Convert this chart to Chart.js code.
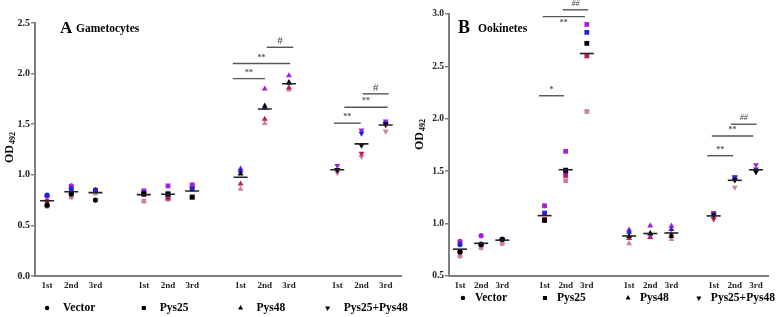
<!DOCTYPE html>
<html>
<head>
<meta charset="utf-8">
<script src="https://cdn.jsdelivr.net/npm/chart.js@4.4.0/dist/chart.umd.min.js"></script>
<style>
  body { margin: 0; background: #fff; }
  #wrap { position: relative; width: 778px; height: 317px; }
  canvas { position: absolute; top: 0; }
</style>
</head>
<body>
<div id="wrap">
  <canvas id="gamChart" width="410" height="317" style="left:0"></canvas>
  <canvas id="ookChart" width="368" height="317" style="left:410px"></canvas>
</div>
<script>
// groups and rounds on the x axis
const groups = ['Vector', 'Pys25', 'Pys48', 'Pys25+Pys48'];
const rounds = ['1st', '2nd', '3rd'];

// OD492, gametocytes (panel A): one array per replicate, 4 groups x 3 rounds
const gamRep1 = [0.70, 0.81, 0.75, 0.81, 0.81, 0.78, 1.01, 1.68, 1.91, 1.05, 1.29, 1.50];
const gamRep2 = [0.80, 0.86, 0.85, 0.82, 0.81, 0.86, 1.04, 1.66, 1.91, 1.05, 1.41, 1.51];
const gamRep3 = [0.79, 0.89, 0.85, 0.84, 0.89, 0.90, 1.06, 1.85, 1.98, 1.09, 1.44, 1.53];
const gamRep4 = [0.74, 0.82, 0.85, 0.81, 0.77, 0.78, 0.91, 1.55, 1.86, 1.04, 1.21, 1.49];
const gamRep5 = [0.69, 0.78, 0.82, 0.74, 0.76, 0.88, 0.86, 1.51, 1.84, 1.02, 1.18, 1.43];

// OD492, ookinetes (panel B)
const ookRep1 = [0.73, 0.80, 0.85, 1.03, 1.51, 2.72, 0.88, 0.907, 0.88, 1.08, 1.416, 1.495];
const ookRep2 = [0.80, 0.805, 0.85, 1.10, 1.50, 2.825, 0.92, 0.90, 0.945, 1.09, 1.435, 1.52];
const ookRep3 = [0.83, 0.885, 0.85, 1.17, 1.69, 2.90, 0.94, 0.98, 0.977, 1.104, 1.447, 1.56];
const ookRep4 = [0.73, 0.80, 0.85, 1.04, 1.46, 2.60, 0.86, 0.87, 0.90, 1.044, 1.42, 1.50];
const ookRep5 = [0.69, 0.77, 0.81, 1.04, 1.41, 2.07, 0.81, 0.87, 0.85, 1.05, 1.346, 1.49];

// significance bars: [from, to, OD level, mark, mark below bar]
const gamSig = [
  [8.68, 10.01, 1.95, '**', 0],
  [8.68, 11.05, 2.10, '**', 0],
  [10.08, 11.18, 2.26, '#', 0],
  [12.86, 13.97, 1.51, '**', 0],
  [13.29, 15.08, 1.667, '**', 0],
  [14.05, 15.12, 1.80, '#', 0]
];
const ookSig = [
  [4.74, 5.92, 2.22, '*', 0],
  [4.91, 6.91, 2.975, '**', 1],
  [5.86, 7.07, 3.04, '##', 0],
  [12.70, 13.93, 1.648, '**', 0],
  [12.91, 14.87, 1.836, '**', 0],
  [13.82, 15.03, 1.948, '##', 0]
];

const repColors = ['#000000', '#2323d6', '#a41fd8', '#c21a5e', '#cc82a8'];
const shapes = ['circle', 'rect', 'triangle', 'triangle'];
const turns = [0, 0, 0, 180];
const sizes = [2.6, 3.4, 3.4, 3.4];
const serif = 'Liberation Serif';

const positions = [];
groups.forEach((g, gi) => rounds.forEach((r, ri) => positions.push(gi * 4 + ri + 1)));
const groupOf = i => Math.floor(i / 3);

function buildDatasets(reps, sig) {
  const sets = [];
  const means = positions.map((p, i) => reps.reduce((s, r) => s + r[i], 0) / reps.length);
  sets.push({
    data: positions.map((p, i) => ({ x: p, y: means[i] })),
    pointStyle: 'line',
    pointRadius: 7,
    pointBorderColor: '#222',
    pointBorderWidth: 1.6
  });
  reps.forEach((vals, k) => {
    sets.push({
      data: positions.map((p, i) => ({ x: p, y: vals[i] })),
      pointStyle: positions.map((p, i) => shapes[groupOf(i)]),
      pointRotation: positions.map((p, i) => turns[groupOf(i)]),
      pointRadius: positions.map((p, i) => sizes[groupOf(i)]),
      pointBackgroundColor: repColors[k],
      pointBorderWidth: 0
    });
  });
  sig.forEach(s => {
    sets.push({
      data: [{ x: s[0], y: s[2] }, { x: s[1], y: s[2] }],
      showLine: true,
      pointRadius: 0,
      borderColor: '#555',
      borderWidth: 1.4,
      clip: false
    });
  });
  return sets;
}

// titles, y axis label with subscript, group legend and bar marks
const decorPlugin = {
  id: 'decor',
  afterDraw(chart, args, o) {
    const ctx = chart.ctx;
    const xs = chart.scales.x, ys = chart.scales.y;
    ctx.save();
    ctx.fillStyle = '#000';
    ctx.textBaseline = 'alphabetic';
    ctx.font = 'bold ' + o.letterSize + 'px ' + serif;
    ctx.fillText(o.letter, o.titleX, 32.5);
    ctx.font = 'bold 11.5px ' + serif;
    ctx.fillText(o.name, o.nameX, 31.5);

    // y title
    ctx.save();
    ctx.translate(o.yTitleX, o.yTitleY);
    ctx.rotate(-Math.PI / 2);
    ctx.font = 'bold 12px ' + serif;
    const w1 = ctx.measureText('OD').width;
    ctx.font = 'bold 8px ' + serif;
    const w2 = ctx.measureText('492').width;
    ctx.textBaseline = 'middle';
    ctx.font = 'bold 12px ' + serif;
    ctx.fillText('OD', -(w1 + w2) / 2, 0);
    ctx.font = 'bold 8px ' + serif;
    ctx.fillText('492', -(w1 + w2) / 2 + w1 + 1, 3);
    ctx.restore();

    // legend
    ctx.textBaseline = 'middle';
    ctx.font = 'bold 11.5px ' + serif;
    groups.forEach((g, gi) => {
      const px = xs.getPixelForValue(o.legendAt[gi]);
      ctx.fillStyle = '#000';
      Chart.helpers.drawPoint(ctx, {
        pointStyle: shapes[gi], rotation: turns[gi], radius: sizes[gi] * 0.85, borderWidth: 0
      }, px, o.legendY);
      ctx.fillText(g, px + o.legendGap, o.legendY);
    });

    // significance marks
    ctx.textAlign = 'center';
    o.sig.forEach(s => {
      const mx = xs.getPixelForValue((s[0] + s[1]) / 2);
      const my = ys.getPixelForValue(s[2]);
      if (s[3].indexOf('#') >= 0) {
        ctx.fillStyle = '#444';
        ctx.font = (s[3].length > 1 ? 'italic 8px ' : '11px ') + serif;
      } else {
        ctx.fillStyle = '#555';
        ctx.font = 'bold 8px ' + serif;
      }
      ctx.fillText(s[3], mx, s[4] ? my + 6 : my - 6);
    });
    ctx.restore();
  }
};

function makeChart(id, reps, sig, cfg) {
  return new Chart(document.getElementById(id).getContext('2d'), {
    type: 'scatter',
    data: { datasets: buildDatasets(reps, sig) },
    options: {
      responsive: false,
      animation: false,
      events: [],
      layout: { padding: { top: cfg.top, right: cfg.right, left: 0, bottom: 0 } },
      scales: {
        x: {
          type: 'linear',
          min: cfg.xMin,
          max: cfg.xMax,
          afterBuildTicks: s => { s.ticks = positions.map(v => ({ value: v })); },
          afterFit: s => { s.height = 41; },
          ticks: {
            autoSkip: false,
            maxRotation: 0,
            padding: 4,
            color: '#222',
            font: { family: serif, size: 9, weight: 'bold' },
            callback: v => rounds[(v - 1) % 4]
          },
          grid: { display: true, drawOnChartArea: false, drawTicks: false },
          border: { display: true, color: '#808080', width: 2 }
        },
        y: {
          min: cfg.yMin,
          max: cfg.yMax,
          afterFit: s => { s.width = cfg.yWidth; },
          ticks: {
            stepSize: 0.5,
            padding: 1,
            color: '#222',
            font: { family: serif, size: cfg.yFont, weight: 'bold' },
            callback: v => v.toFixed(1)
          },
          grid: { display: true, drawOnChartArea: false, drawTicks: true, tickLength: 4, color: '#808080', lineWidth: 1.5 },
          border: { display: true, color: '#808080', width: 2 }
        }
      },
      plugins: {
        legend: { display: false },
        tooltip: { enabled: false },
        decor: cfg.decor
      }
    },
    plugins: [decorPlugin]
  });
}

makeChart('gamChart', [gamRep1, gamRep2, gamRep3, gamRep4, gamRep5], gamSig, {
  top: 23, right: 3, xMin: 0.5, xMax: 15.65, yMin: 0, yMax: 2.5, yWidth: 35, yFont: 10,
  decor: {
    letter: 'A', letterSize: 17, titleX: 60, name: 'Gametocytes', nameX: 76,
    yTitleX: 10, yTitleY: 148,
    legendAt: [1, 5, 9, 12.6], legendY: 308, legendGap: 16, sig: gamSig
  }
});

makeChart('ookChart', [ookRep1, ookRep2, ookRep3, ookRep4, ookRep5], ookSig, {
  top: 14, right: 10, xMin: 0.48, xMax: 15.57, yMin: 0.5, yMax: 3.0, yWidth: 39, yFont: 9.5,
  decor: {
    letter: 'B', letterSize: 18, titleX: 48, name: 'Ookinetes', nameX: 68,
    yTitleX: 10, yTitleY: 135,
    legendAt: [1.14, 5.02, 8.95, 12.3], legendY: 298, legendGap: 12, sig: ookSig
  }
});
</script>
</body>
</html>
